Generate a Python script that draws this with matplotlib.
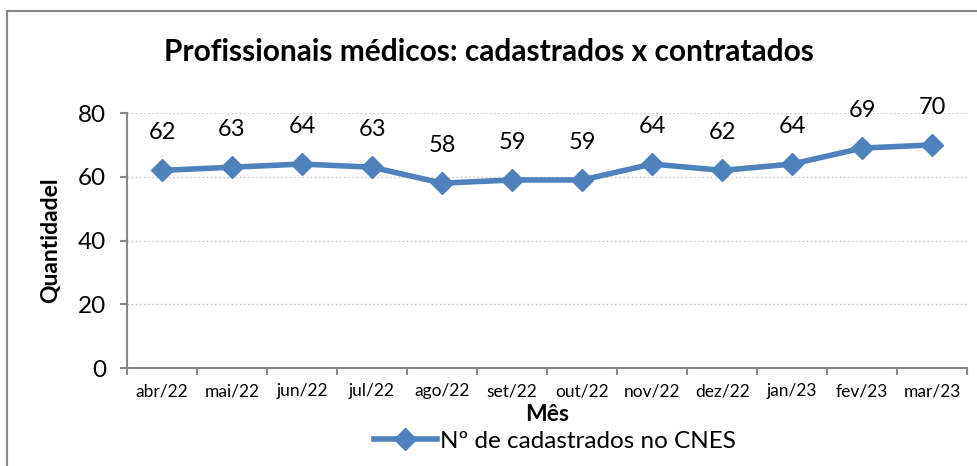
import matplotlib
matplotlib.use('Agg')
import matplotlib.pyplot as plt
import matplotlib.patches as patches
from matplotlib.lines import Line2D

# dados do gráfico
meses = ['abr/22', 'mai/22', 'jun/22', 'jul/22', 'ago/22', 'set/22',
         'out/22', 'nov/22', 'dez/22', 'jan/23', 'fev/23', 'mar/23']
cadastrados = [62, 63, 64, 63, 58, 59, 59, 64, 62, 64, 69, 70]
y_ticks = [0, 20, 40, 60, 80]

azul = '#4F81BD'
cinza = '#868686'

plt.rcParams['font.family'] = ['Lato', 'DejaVu Sans']

fig = plt.figure(figsize=(9.77, 4.66), dpi=100)
ax = fig.add_axes([0.130, 0.210, 0.860, 0.5475])

# moldura do gráfico (cortada à direita e embaixo)
borda = patches.Rectangle((7 / 977, -0.05), 1.2, 1 - 11 / 466 + 0.05,
                          transform=fig.transFigure, fill=False,
                          edgecolor=cinza, linewidth=1.5)
fig.patches.append(borda)

x = list(range(len(meses)))
ax.plot(x, cadastrados, color=azul, linewidth=4, marker='D',
        markersize=11, markerfacecolor=azul, markeredgecolor=azul,
        zorder=3)

# rótulos de dados
for xi, v in zip(x, cadastrados):
    ax.annotate(str(v), (xi, v), xytext=(0, 27), textcoords='offset points',
                ha='center', va='center', fontsize=17, color='black')

ax.set_xlim(-0.5, len(meses) - 0.5)
ax.set_ylim(0, 80)
ax.set_yticks(y_ticks)
ax.set_yticklabels([str(t) for t in y_ticks], fontsize=17.5)
ax.set_xticks(x)
ax.set_xticklabels(meses, fontsize=12.5)
ax.set_xticks([i - 0.5 for i in range(len(meses) + 1)], minor=True)
ax.tick_params(axis='x', which='major', length=0, pad=11)
ax.tick_params(axis='x', which='minor', length=5, color=cinza, width=1.5)
ax.tick_params(axis='y', length=5, color=cinza, width=1.5, pad=10)

ax.grid(axis='y', linestyle=(0, (1, 2)), color='#BFBFBF', linewidth=1)
ax.set_axisbelow(True)
for s in ['top', 'right']:
    ax.spines[s].set_visible(False)
for s in ['left', 'bottom']:
    ax.spines[s].set_color(cinza)
    ax.spines[s].set_linewidth(1.5)

ax.set_ylabel('Quantidadel', fontsize=16.5, fontweight='bold', labelpad=12)
ax.set_xlabel('Mês', fontsize=16.5, fontweight='bold', labelpad=3)

fig.text(0.5, 1 - 52 / 466, 'Profissionais médicos: cadastrados x contratados',
         ha='center', va='center', fontsize=21.5, fontweight='bold')

handle = Line2D([], [], color=azul, linewidth=4, marker='D', markersize=11)
fig.legend([handle], ['Nº de cadastrados no CNES'], loc='center',
           bbox_to_anchor=(0.568, 1 - 441 / 466), frameon=False,
           fontsize=17.5, handlelength=2.6, handletextpad=0.15)

fig.savefig('out.png', dpi=100)
